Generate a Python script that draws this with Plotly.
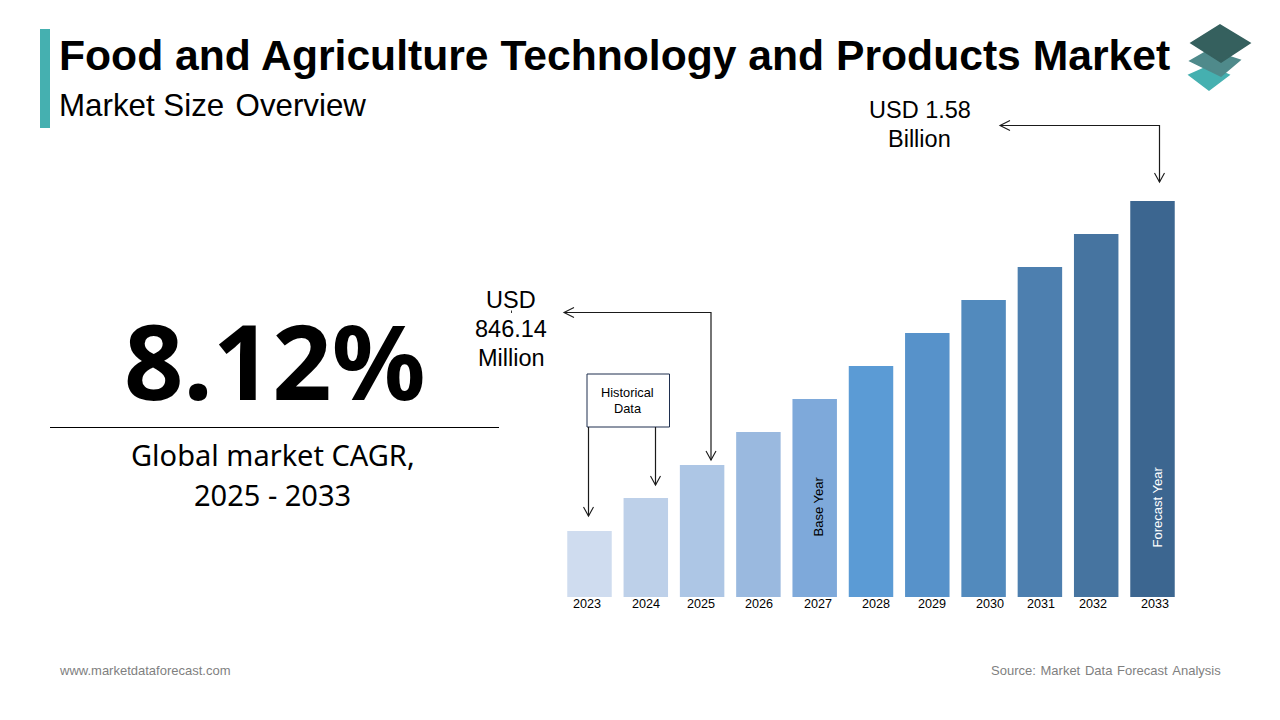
import plotly.graph_objects as go

W, H = 1280, 720

years = [2023, 2024, 2025, 2026, 2027, 2028, 2029, 2030, 2031, 2032, 2033]
# bar heights as drawn in the picture (schematic, not to the USD scale)
bar_heights = [66, 99, 132, 165, 198, 231, 264, 297, 330, 363, 396]
bar_colors = ["#CFDCEF", "#BDD0E9", "#ADC6E5", "#9AB9DF", "#7EA9DA", "#5B9BD5",
              "#5792CA", "#528ABD", "#4D7FAF", "#4674A0", "#3C6690"]
# the year labels sit a little off centre in the original
label_nudge = [-3, 0, -1, 1, 3, 5, 5, 6, 1, -3, 2]

HAIR = "\u200a"
TITLE = "Food and Agriculture Technology and Products Market"
SUBTITLE = f"Market Size {HAIR}Overview"
CAGR = "8.12%"
CAGR_TEXT = ["Global market CAGR,", "2025 - 2033"]
START_TEXT = ["USD", "846.14", "Million"]
END_TEXT = ["USD 1.58", "Billion"]
HISTORICAL_TEXT = ["Historical", "Data"]
SITE = "www.marketdataforecast.com"
SOURCE = f"Source: {HAIR}Market {HAIR}Data {HAIR}Forecast {HAIR}Analysis"


def px(x):
    return x / W


def py(y):
    return 1 - y / H


def path(points):
    return "M " + " L ".join(f"{px(x)} {py(y)}" for x, y in points)


def add_text(fig, x, y, text, size, color="#000000", font="Liberation Sans", bold=False,
             anchor="center", angle=0):
    fig.add_annotation(
        xref="paper", yref="paper", x=px(x), y=py(y),
        text=f"<b>{text}</b>" if bold else text,
        showarrow=False, xanchor=anchor, yanchor="middle",
        textangle=angle, borderpad=0, borderwidth=0,
        font=dict(size=size, color=color, family=font),
    )


def add_lines(fig, x, y, lines, gap, size, **kwargs):
    for i, line in enumerate(lines):
        add_text(fig, x, y + i * gap, line, size, **kwargs)


def add_arrow(fig, points, both=False, color="#1a1a1a"):
    fig.add_shape(type="path", xref="paper", yref="paper", path=path(points),
                  line=dict(color=color, width=1.2))
    ends = [(points[-1], points[-2])]
    if both:
        ends.append((points[0], points[1]))
    for (x, y), (xp, yp) in ends:
        if xp == x:
            d = 1 if yp > y else -1
            head = [(x - 5, y + d * 9), (x, y), (x + 5, y + d * 9)]
        else:
            d = 1 if xp > x else -1
            head = [(x + d * 10, y - 5), (x, y), (x + d * 10, y + 5)]
        fig.add_shape(type="path", xref="paper", yref="paper", path=path(head),
                      line=dict(color=color, width=1.1))


fig = go.Figure(go.Bar(x=years, y=bar_heights, marker=dict(color=bar_colors, line=dict(width=0)),
                       hoverinfo="skip"))

fig.update_layout(
    width=W, height=H, margin=dict(l=0, r=0, t=0, b=0),
    paper_bgcolor="white", plot_bgcolor="white", showlegend=False, bargap=0.21,
    xaxis=dict(domain=[px(561.35), px(1180.65)], range=[2022.5, 2033.5], visible=False),
    yaxis=dict(domain=[py(597), py(197)], range=[0, 400], visible=False),
)

# header
fig.add_shape(type="rect", xref="paper", yref="paper", x0=px(40), x1=px(50), y0=py(128), y1=py(29),
              fillcolor="#45B0B0", line_width=0)
add_text(fig, 59, 55, TITLE, 42.65, bold=True, anchor="left")
add_text(fig, 58.5, 105, SUBTITLE, 31.3, anchor="left")

# stacked layers icon
for pts, col in [
    ([(1209, 66), (1229, 75), (1209, 90), (1189, 75)], "#45B0B0"),
    ([(1209, 50), (1240, 60), (1221, 76), (1190, 61)], "#4F8A8B"),
    ([(1220, 25), (1250, 43), (1221, 62), (1191, 43)], "#35605E"),
]:
    fig.add_shape(type="path", xref="paper", yref="paper", path=path(pts) + " Z",
                  fillcolor=col, line=dict(color=col, width=1.5))

# CAGR block
add_text(fig, 274.5, 359, CAGR, 104, bold=True, font="Noto Sans")
fig.add_shape(type="line", xref="paper", yref="paper", x0=px(50), x1=px(499), y0=py(427.5), y1=py(427.5),
              line=dict(color="#000000", width=1))
add_lines(fig, 272.5, 454, CAGR_TEXT, 40, 29, font="Noto Sans")

# year labels and bar notes
for year, nudge in zip(years, label_nudge):
    fig.add_annotation(x=year, y=0, xref="x", yref="y", text=str(year), showarrow=False,
                       yanchor="top", xanchor="center", xshift=nudge, yshift=2,
                       font=dict(size=12.6, color="#000000", family="Liberation Sans"))
add_text(fig, 817.5, 507, "Base Year", 13, angle=-90)
add_text(fig, 1156.5, 507, "Forecast Year", 13, color="#FFFFFF", angle=-90)

# historical data box
fig.add_shape(type="rect", xref="paper", yref="paper", x0=px(587), x1=px(669.5), y0=py(427), y1=py(374),
              fillcolor="white", line=dict(color="#1F2F4F", width=1))
add_lines(fig, 627.5, 392.5, HISTORICAL_TEXT, 16, 12.8)

# callouts
add_lines(fig, 511, 300, START_TEXT, 29, 23.5)
add_lines(fig, 919.5, 110, END_TEXT, 29, 23.5)
fig.add_shape(type="line", xref="paper", yref="paper", x0=px(511.5), x1=px(511.5), y0=py(310.5), y1=py(313),
              line=dict(color="#333333", width=1))
add_arrow(fig, [(711, 460), (711, 312.5), (564, 312.5)], both=True)
add_arrow(fig, [(1159.5, 182), (1159.5, 125.5), (1000, 125.5)], both=True)
add_arrow(fig, [(588.5, 427), (588.5, 516)])
add_arrow(fig, [(655.5, 427), (655.5, 485)])

# footer
add_text(fig, 58.5, 670.5, SITE, 13, color="#7F7F7F", anchor="left")
add_text(fig, 1221, 670.5, SOURCE, 13, color="#7F7F7F", anchor="right")

fig.write_html("out.html", config={"displayModeBar": False},
               post_script="document.body.style.margin='0';")
